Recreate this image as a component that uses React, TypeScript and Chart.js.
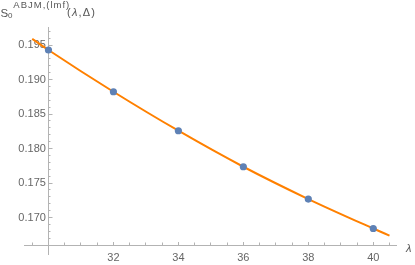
import React, { useEffect, useRef } from 'react';
import { Chart, registerables } from 'chart.js';

Chart.register(...registerables);

// Sample points (λ, S0)
const lambdaPoints = [30, 32, 34, 36, 38, 40];
const s0Points = [0.19428, 0.18823, 0.18258, 0.17736, 0.17268, 0.16841];

// Fitted curve (ends of the plotted range included)
const curveLambda = [29.5, 30, 32, 34, 36, 38, 40, 40.5];
const curveS0 = [0.1959, 0.19428, 0.18823, 0.18258, 0.17736, 0.17268, 0.16841, 0.16738];

// Tick positions
const xMajorTicks = [32, 34, 36, 38, 40];
const xMinorTicks = [29.5, 30.5, 31, 31.5, 32.5, 33, 33.5, 34.5, 35, 35.5, 36.5, 37, 37.5, 38.5, 39, 39.5, 40.5];
const yMajorTicks = [0.17, 0.175, 0.18, 0.185, 0.19, 0.195];
const yMinorTicks = [0.167, 0.168, 0.169, 0.171, 0.172, 0.173, 0.174, 0.176, 0.177, 0.178, 0.179, 0.181, 0.182, 0.183, 0.184, 0.186, 0.187, 0.188, 0.189, 0.191, 0.192, 0.193, 0.194, 0.196, 0.197];

const X_MIN = 29.25;
const X_MAX = 40.7;
const Y_MIN = 0.1646;
const Y_MAX = 0.1976;
const X_CROSS = 30;
const Y_CROSS = 0.166;
const Y_LABEL_ANCHOR = 29.92;

const AXIS_COLOR = '#b3b3b3';
const LABEL_COLOR = '#666666';
const FONT = 'Liberation Sans, Arial, sans-serif';

function axisX(tickList: number[], major: boolean) {
  return {
    type: 'linear' as const,
    min: X_MIN,
    max: X_MAX,
    position: { y: Y_CROSS },
    border: { display: major, color: AXIS_COLOR, width: 1 },
    grid: {
      display: true,
      drawOnChartArea: false,
      drawTicks: true,
      tickLength: major ? -4 : -2.5,
      tickColor: AXIS_COLOR,
      tickWidth: 1,
    },
    ticks: {
      display: major,
      autoSkip: false,
      maxRotation: 0,
      color: LABEL_COLOR,
      padding: 10,
      font: { family: FONT, size: 11 },
      callback: (v: any) => String(v),
    },
    afterBuildTicks: (s: any) => {
      s.ticks = tickList.map((v) => ({ value: v }));
    },
  };
}

function axisY(tickList: number[], kind: 'major' | 'minor' | 'labels') {
  const isLabels = kind === 'labels';
  return {
    type: 'linear' as const,
    min: Y_MIN,
    max: Y_MAX,
    position: { x: isLabels ? Y_LABEL_ANCHOR : X_CROSS },
    border: { display: kind === 'major', color: AXIS_COLOR, width: 1 },
    grid: {
      display: !isLabels,
      drawOnChartArea: false,
      drawTicks: !isLabels,
      tickLength: kind === 'major' ? -4.5 : -2.5,
      tickColor: AXIS_COLOR,
      tickWidth: 1,
    },
    ticks: {
      display: isLabels,
      autoSkip: false,
      color: LABEL_COLOR,
      padding: 0,
      font: { family: FONT, size: 11 },
      callback: (v: any) => Number(v).toFixed(3),
    },
    afterBuildTicks: (s: any) => {
      s.ticks = tickList.map((v) => ({ value: v }));
    },
  };
}

export default function App() {
  const canvasRef = useRef<HTMLCanvasElement | null>(null);

  useEffect(() => {
    if (!canvasRef.current) return;
    const chart = new Chart(canvasRef.current, {
      type: 'scatter',
      data: {
        datasets: [
          {
            label: 'points',
            data: lambdaPoints.map((x, i) => ({ x, y: s0Points[i] })),
            backgroundColor: '#5E81B5',
            borderWidth: 0,
            pointRadius: 3.6,
            showLine: false,
            order: 0,
          },
          {
            label: 'curve',
            data: curveLambda.map((x, i) => ({ x, y: curveS0[i] })),
            borderColor: '#FF8000',
            backgroundColor: '#FF8000',
            borderWidth: 2,
            pointRadius: 0,
            showLine: true,
            cubicInterpolationMode: 'monotone',
            order: 1,
          } as any,
        ],
      },
      options: {
        animation: false,
        responsive: false,
        devicePixelRatio: 1,
        layout: { padding: { left: 24.1, right: 19, top: 27.1, bottom: 10.2 } },
        plugins: { legend: { display: false }, tooltip: { enabled: false }, title: { display: false } },
        scales: {
          x: axisX(xMajorTicks, true),
          xMinor: axisX(xMinorTicks, false),
          y: axisY(yMajorTicks, 'major'),
          yMinor: axisY(yMinorTicks, 'minor'),
          yLabels: axisY(yMajorTicks, 'labels'),
        } as any,
      },
    });
    return () => chart.destroy();
  }, []);

  const base: React.CSSProperties = { position: 'absolute', fontFamily: FONT, color: '#555', whiteSpace: 'nowrap', lineHeight: 1 };

  return (
    <div style={{ position: 'absolute', left: 0, top: 0, width: 415, height: 265, background: '#fff' }}>
      <canvas ref={canvasRef} width={415} height={265} style={{ position: 'absolute', left: 0, top: 0 }} />
      <span style={{ ...base, left: 0.5, top: 8.2, fontSize: 11.5 }}>S</span>
      <span style={{ ...base, left: 8, top: 11.8, fontSize: 8 }}>0</span>
      <span style={{ ...base, left: 13.3, top: 0.2, fontSize: 9.5, letterSpacing: 1 }}>ABJM,(lmf)</span>
      <span style={{ ...base, left: 67, top: 7.4, fontSize: 11, letterSpacing: 1.2 }}>
        (<i>λ</i>,Δ)
      </span>
      <span style={{ ...base, left: 406, top: 242.5, fontSize: 11, fontStyle: 'italic' }}>λ</span>
    </div>
  );
}
